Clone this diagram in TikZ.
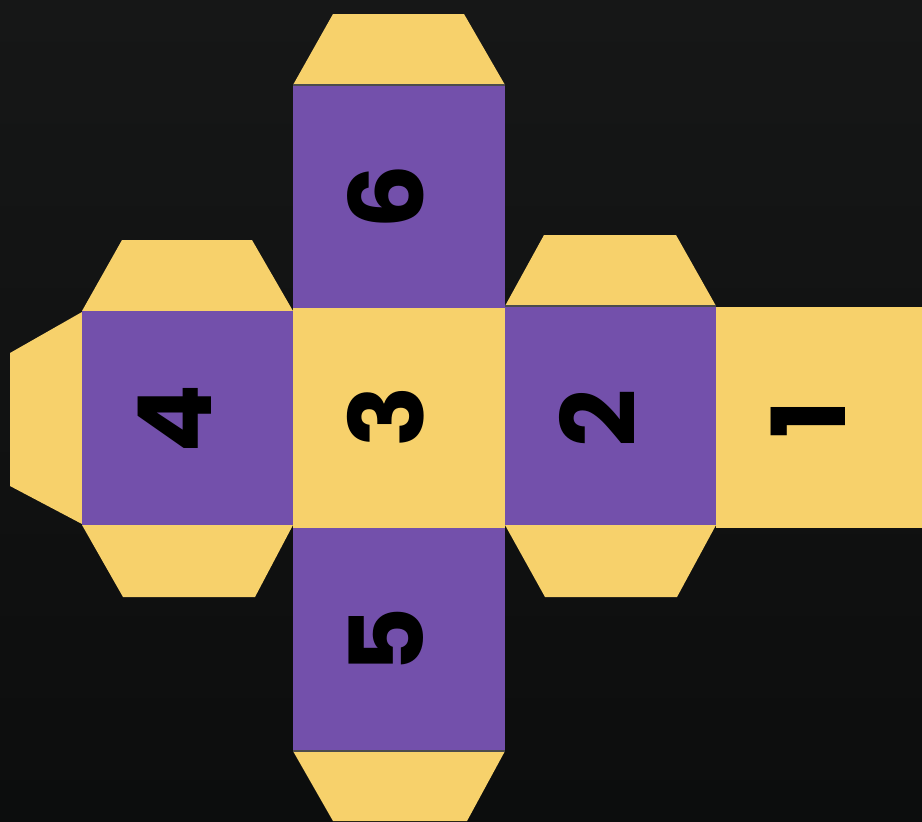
\documentclass[tikz,border=0pt]{standalone}
\usepackage{fontspec}
\setmainfont{Poppins}[BoldFont={Poppins Bold}]
\definecolor{c1}{RGB}{115,80,171}
\definecolor{c2}{RGB}{247,209,107}
\definecolor{c3}{RGB}{22,23,23}
\definecolor{c4}{RGB}{12,13,13}

\begin{document}
\begin{tikzpicture}[x=0.01cm,y=-0.01cm,
    face/.style={fill=#1},
    flap/.style={fill=c2},
    fold/.style={draw=black!70,line width=0.3pt},
    digit/.style={rotate=90,inner sep=0pt,text=black,font=\fontsize{29}{29}\bfseries\selectfont}]
    % background
    \useasboundingbox (0,0) rectangle (922,821);
    \shade[top color=c3,bottom color=c4] (0,0) rectangle (922,821);
    \clip (0,0) rectangle (922,821);
    \begin{scope} % column 6 - 3 - 5
        \fill[flap] (293,85) -- (333,14) -- (464,14) -- (505,85) -- cycle;
        \fill[face=c1] (293,85) rectangle (505,308);
        \fill[face=c2] (293,308) rectangle (505,528);
        \fill[face=c1] (293,528) rectangle (505,751);
        \fill[flap] (293,751) -- (333,821) -- (467,821) -- (505,751) -- cycle;
        \draw[fold] (293,85) -- (505,85);
        \draw[fold] (293,751) -- (505,751);
    \end{scope}
    \begin{scope} % face 4 with its flaps
        \fill[flap] (82,311) -- (122,240) -- (252,240) -- (293,311) -- cycle;
        \fill[flap] (82,525) -- (123,597) -- (255,597) -- (293,525) -- cycle;
        \fill[flap] (82,312) -- (10,353) -- (10,486) -- (82,524) -- cycle;
        \fill[face=c1] (82,311) rectangle (293,525);
    \end{scope}
    \begin{scope} % face 2 with its flaps, then face 1
        \fill[flap] (505,306) -- (544,235) -- (676,235) -- (716,306) -- cycle;
        \fill[flap] (505,525) -- (545,597) -- (677,597) -- (716,525) -- cycle;
        \fill[face=c1] (505,306) rectangle (716,525);
        \fill[face=c2] (716,307) rectangle (922,528);
        \draw[fold] (505,306) -- (716,306);
    \end{scope}
    % numbers
    \node[digit] (n6) at (386,197) {6};
    \node[digit] (n3) at (386,417) {3};
    \node[digit] (n5) at (386,640) {5};
    \node[digit] (n4) at (175,419) {4};
    \node[digit] (n2) at (597,418) {2};
    \node[digit] (n1) at (808,419) {1};
\end{tikzpicture}
\end{document}
